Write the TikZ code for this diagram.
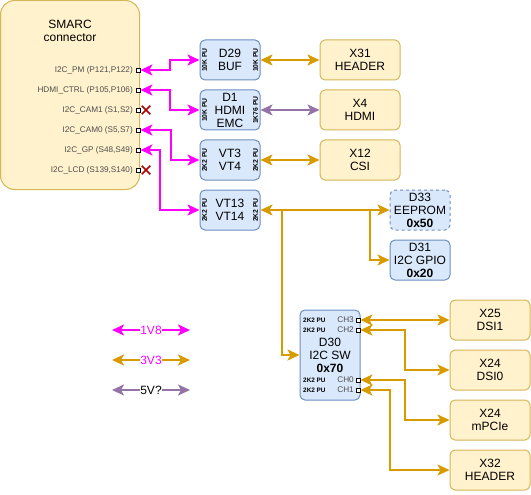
\documentclass[tikz,border=0pt]{standalone}
\usepackage{fontspec}
\setmainfont{Liberation Sans}
\usepackage{xcolor}
\usepackage{tikz}
\usetikzlibrary{arrows.meta,shapes.misc,positioning}
\definecolor{myblue}{HTML}{DAE8FC}
\definecolor{mybluel}{HTML}{6C8EBF}
\definecolor{myyel}{HTML}{FFF2CC}
\definecolor{myyell}{HTML}{D6B656}
\definecolor{myorange}{HTML}{D79B00}
\definecolor{mymag}{HTML}{FF00FF}
\definecolor{mypurple}{HTML}{9673A6}
\definecolor{myred}{HTML}{B20000}
\definecolor{mygray}{HTML}{4D4D4D}
\newcommand{\mainfs}{\fontsize{12}{13}\selectfont}
\newcommand{\pinfs}{\fontsize{8.2}{10}\selectfont}
\newcommand{\pufs}{\fontsize{6.8}{7}\selectfont\bfseries}
\newcommand{\pusfs}{\fontsize{6.4}{7}\selectfont\bfseries}
\tikzstyle{arrow} = [line width=2pt,{Stealth[length=12pt,width=11pt,inset=3pt]}-{Stealth[length=12pt,width=11pt,inset=3pt]}]
\tikzstyle{arrowr} = [line width=2pt,-{Stealth[length=12pt,width=11pt,inset=3pt]}]
\tikzset{
  bluebox/.style={draw=mybluel,fill=myblue,line width=1pt,rounded corners=5pt,minimum width=60pt,minimum height=40pt,align=center,font=\mainfs,inner sep=1pt},
  yelbox/.style={draw=myyell,fill=myyel,line width=1pt,rounded corners=5pt,minimum width=80pt,minimum height=40pt,align=center,font=\mainfs,inner sep=1pt},
  pin/.style={draw,fill=white,minimum size=4pt,inner sep=0pt,line width=0.8pt},
  pinlbl/.style={anchor=east,font=\pinfs,text=mygray,inner sep=0pt},
  pu/.style={rotate=90,font=\pufs,inner sep=0pt},
  nc/.style={cross out,draw=myred,line width=1.5pt,minimum size=7pt,inner sep=0pt},
}
\begin{document}
\begin{tikzpicture}[x=1pt,y=-1pt]
        \useasboundingbox (0,0) rectangle (531,495);
        % SMARC connector
        \draw (70,95) node[draw=myyell,fill=myyel,line width=1pt,rounded corners=14pt,minimum width=139pt,minimum height=189pt] (smarc) {};
        \draw (70,31) node[align=center,font=\mainfs] (smarct) {SMARC\\connector};
        \draw (138,70) node[pin] (pm) {};
        \draw (138,90) node[pin] (hdmi) {};
        \draw (138,110) node[pin] (cam1) {};
        \draw (138,130) node[pin] (cam0) {};
        \draw (138,150) node[pin] (gp) {};
        \draw (138,170) node[pin] (lcd) {};
        \draw (133,70) node[pinlbl] (pmt) {I2C\_PM (P121,P122)};
        \draw (133,90) node[pinlbl] (hdmit) {HDMI\_CTRL (P105,P106)};
        \draw (133,110) node[pinlbl] (cam1t) {I2C\_CAM1 (S1,S2)};
        \draw (133,130) node[pinlbl] (cam0t) {I2C\_CAM0 (S5,S7)};
        \draw (133,150) node[pinlbl] (gpt) {I2C\_GP (S48,S49)};
        \draw (133,170) node[pinlbl] (lcdt) {I2C\_LCD (S139,S140)};
        \draw (146,110) node[nc] (nc1) {};
        \draw (146,170) node[nc] (nc2) {};
        % buffers
        \draw (230,60) node[bluebox] (d29) {D29\\BUF};
        \draw (230,110) node[bluebox] (d1) {D1\\HDMI\\EMC};
        \draw (230,160) node[bluebox] (vt3) {VT3\\VT4};
        \draw (230,210) node[bluebox] (vt13) {VT13\\VT14};
        \draw ([xshift=5pt]d29.west) node[pu] (pu1) {10K PU};
        \draw ([xshift=-5pt]d29.east) node[pu] (pu2) {10K PU};
        \draw ([xshift=5pt]d1.west) node[pu] (pu3) {10K PU};
        \draw ([xshift=-5pt]d1.east) node[pu] (pu4) {1K76 PU};
        \draw ([xshift=5pt]vt3.west) node[pu] (pu5) {2K2 PU};
        \draw ([xshift=-5pt]vt3.east) node[pu] (pu6) {2K2 PU};
        \draw ([xshift=5pt]vt13.west) node[pu] (pu7) {2K2 PU};
        \draw ([xshift=-5pt]vt13.east) node[pu] (pu8) {2K2 PU};
        % connectors
        \draw (360,60) node[yelbox] (x31) {X31\\HEADER};
        \draw (360,110) node[yelbox] (x4) {X4\\HDMI};
        \draw (360,160) node[yelbox] (x12) {X12\\CSI};
        \draw (420,210) node[bluebox,dashed] (d33) {D33\\EEPROM\\\textbf{0x50}};
        \draw (420,260) node[bluebox] (d31) {D31\\I2C GPIO\\\textbf{0x20}};
        \draw (330,355) node[bluebox,minimum height=90pt] (d30) {D30\\I2C SW\\\textbf{0x70}};
        \draw (490,320) node[yelbox] (x25) {X25\\DSI1};
        \draw (490,370) node[yelbox] (x24a) {X24\\DSI0};
        \draw (490,420) node[yelbox] (x24b) {X24\\mPCIe};
        \draw (490,470) node[yelbox] (x32) {X32\\HEADER};
        % switch channels
        \draw (358,320) node[pin] (ch3) {};
        \draw (358,330) node[pin] (ch2) {};
        \draw (358,380) node[pin] (ch0) {};
        \draw (358,390) node[pin] (ch1) {};
        \draw (354,320) node[pinlbl] (ch3t) {CH3};
        \draw (354,330) node[pinlbl] (ch2t) {CH2};
        \draw (354,380) node[pinlbl] (ch0t) {CH0};
        \draw (354,390) node[pinlbl] (ch1t) {CH1};
        \draw (303,320) node[anchor=west,font=\pusfs,inner sep=0pt] (pu9) {2K2 PU};
        \draw (303,330) node[anchor=west,font=\pusfs,inner sep=0pt] (pu10) {2K2 PU};
        \draw (303,380) node[anchor=west,font=\pusfs,inner sep=0pt] (pu11) {2K2 PU};
        \draw (303,390) node[anchor=west,font=\pusfs,inner sep=0pt] (pu12) {2K2 PU};
        % edges
        \draw[arrow, color=mymag] (pm.east) -| ([xshift=-30pt]d29.west) -- (d29.west);
        \draw[arrow, color=mymag] (hdmi.east) -| ([xshift=-30pt]d1.west) -- (d1.west);
        \draw[arrow, color=mymag] (cam0.east) -| ([xshift=-29pt]vt3.west) -- (vt3.west);
        \draw[arrow, color=mymag] (gp.east) -| ([xshift=-40pt]vt13.west) -- (vt13.west);
        \draw[arrow, color=myorange] (d29.east) -- (x31.west);
        \draw[arrow, color=mypurple] (d1.east) -- (x4.west);
        \draw[arrow, color=myorange] (vt3.east) -- (x12.west);
        \draw[arrow, color=myorange] (vt13.east) -- (d33.west);
        \coordinate (j1) at ([xshift=-20pt]d33.west);
        \coordinate (j2) at ([xshift=21pt]vt13.east);
        \draw[arrowr, color=myorange] (j1) |- (d31.west);
        \draw[arrowr, color=myorange] (j2) |- (d30.west);
        \draw[arrow, color=myorange] (ch3.east) -- (x25.west);
        \draw[arrow, color=myorange] (ch2.east) -| ([xshift=-45pt]x24a.west) -- (x24a.west);
        \draw[arrow, color=myorange] (ch0.east) -| ([xshift=-45pt]x24b.west) -- (x24b.west);
        \draw[arrow, color=myorange] (ch1.east) -| ([xshift=-60pt]x32.west) -- (x32.west);
        % legend
        \coordinate (l1a) at (112,330);
        \coordinate (l1b) at (190,330);
        \coordinate (l2a) at (112,360);
        \coordinate (l2b) at (190,360);
        \coordinate (l3a) at (112,390);
        \coordinate (l3b) at (190,390);
        \draw[arrow, color=mymag] (l1a) -- node[fill=white,inner sep=0.5pt,font=\mainfs,text=mymag] (l1) {1V8} (l1b);
        \draw[arrow, color=myorange] (l2a) -- node[fill=white,inner sep=0.5pt,font=\mainfs,text=mymag] (l2) {3V3} (l2b);
        \draw[arrow, color=mypurple] (l3a) -- node[fill=white,inner sep=0.5pt,font=\mainfs,text=black] (l3) {5V?} (l3b);
    \end{tikzpicture}
\end{document}
